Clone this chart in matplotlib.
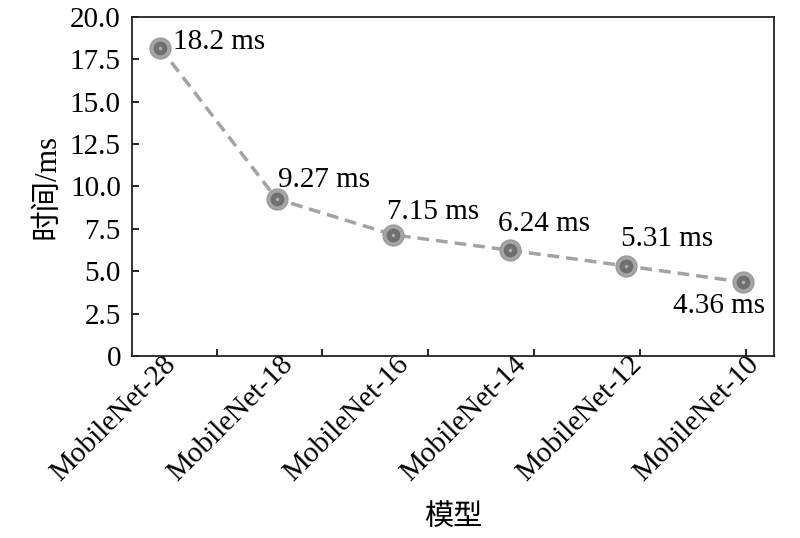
import matplotlib
matplotlib.use("Agg")
import matplotlib.pyplot as plt
from matplotlib.transforms import ScaledTranslation

models = ["MobileNet-28", "MobileNet-18", "MobileNet-16", "MobileNet-14", "MobileNet-12", "MobileNet-10"]
times = [18.2, 9.27, 7.15, 6.24, 5.31, 4.36]
labels = ["18.2 ms", "9.27 ms", "7.15 ms", "6.24 ms", "5.31 ms", "4.36 ms"]
yticks = [0, 2.5, 5.0, 7.5, 10.0, 12.5, 15.0, 17.5, 20.0]
ytick_labels = ["0", "2.5", "5.0", "7.5", "10.0", "12.5", "15.0", "17.5", "20.0"]
# tick marks on x axis (not aligned with points in the reference)
xtick_marks = [0.489, 1.389, 2.298, 3.207, 4.117, 5.026]
# label offsets in pixels (dx, dy)
offsets = [(13, 6), (1, 19), (-6, 23), (-12, 26), (-5, 27), (-70, -24)]

plt.rcParams['font.family'] = ['Liberation Serif', 'Noto Sans CJK SC']
plt.rcParams['font.size'] = 21

fig = plt.figure(figsize=(8, 5.38), dpi=100)
ax = fig.add_axes([0.165, 0.3383, 0.8025, 0.6301])
x = list(range(len(models)))

ax.plot(x, times, linestyle=(0, (3.4, 2.0)), color='#a3a3a3', lw=2.5, zorder=2)
ax.plot(x, times, linestyle='none', marker='o', ms=15, mfc='#a5a5a5', mec='#9a9a9a', mew=1, zorder=3)
ax.plot(x, times, linestyle='none', marker='o', ms=9, mfc='#707070', mec='#6a6a6a', mew=0.8, zorder=4)
ax.plot(x, times, linestyle='none', marker='o', ms=2.5, mfc='#b0b0b0', mec='none', zorder=5)

for xi, yi, t, (dx, dy) in zip(x, times, labels, offsets):
    ax.annotate(t, (xi, yi), xytext=(dx * 0.72, dy * 0.72), textcoords='offset points',
                ha='left', va='center', color='black')

ax.set_xlim(-0.24, 5.266)
ax.set_ylim(0, 20)
ax.set_yticks(yticks, ytick_labels)
ax.set_xticks(x, models, rotation=45, ha='right', rotation_mode='anchor', va='center')
ax.set_xticks(xtick_marks, minor=True)
ax.tick_params(axis='x', which='major', length=0, pad=3)
ax.tick_params(axis='x', which='minor', direction='in', length=5, width=1.2)
ax.tick_params(axis='y', direction='in', length=5, width=1.2, pad=8)
for lbl in ax.get_xticklabels():
    lbl.set_transform(lbl.get_transform() + ScaledTranslation(12 / 100, 0, fig.dpi_scale_trans))
for s in ax.spines.values():
    s.set_linewidth(1.3)
    s.set_color('#222222')

ax.set_ylabel("时间/ms", labelpad=6, fontsize=22)
ax.set_xlabel("模型", labelpad=13, fontsize=21)

fig.savefig("out.png", dpi=100)
